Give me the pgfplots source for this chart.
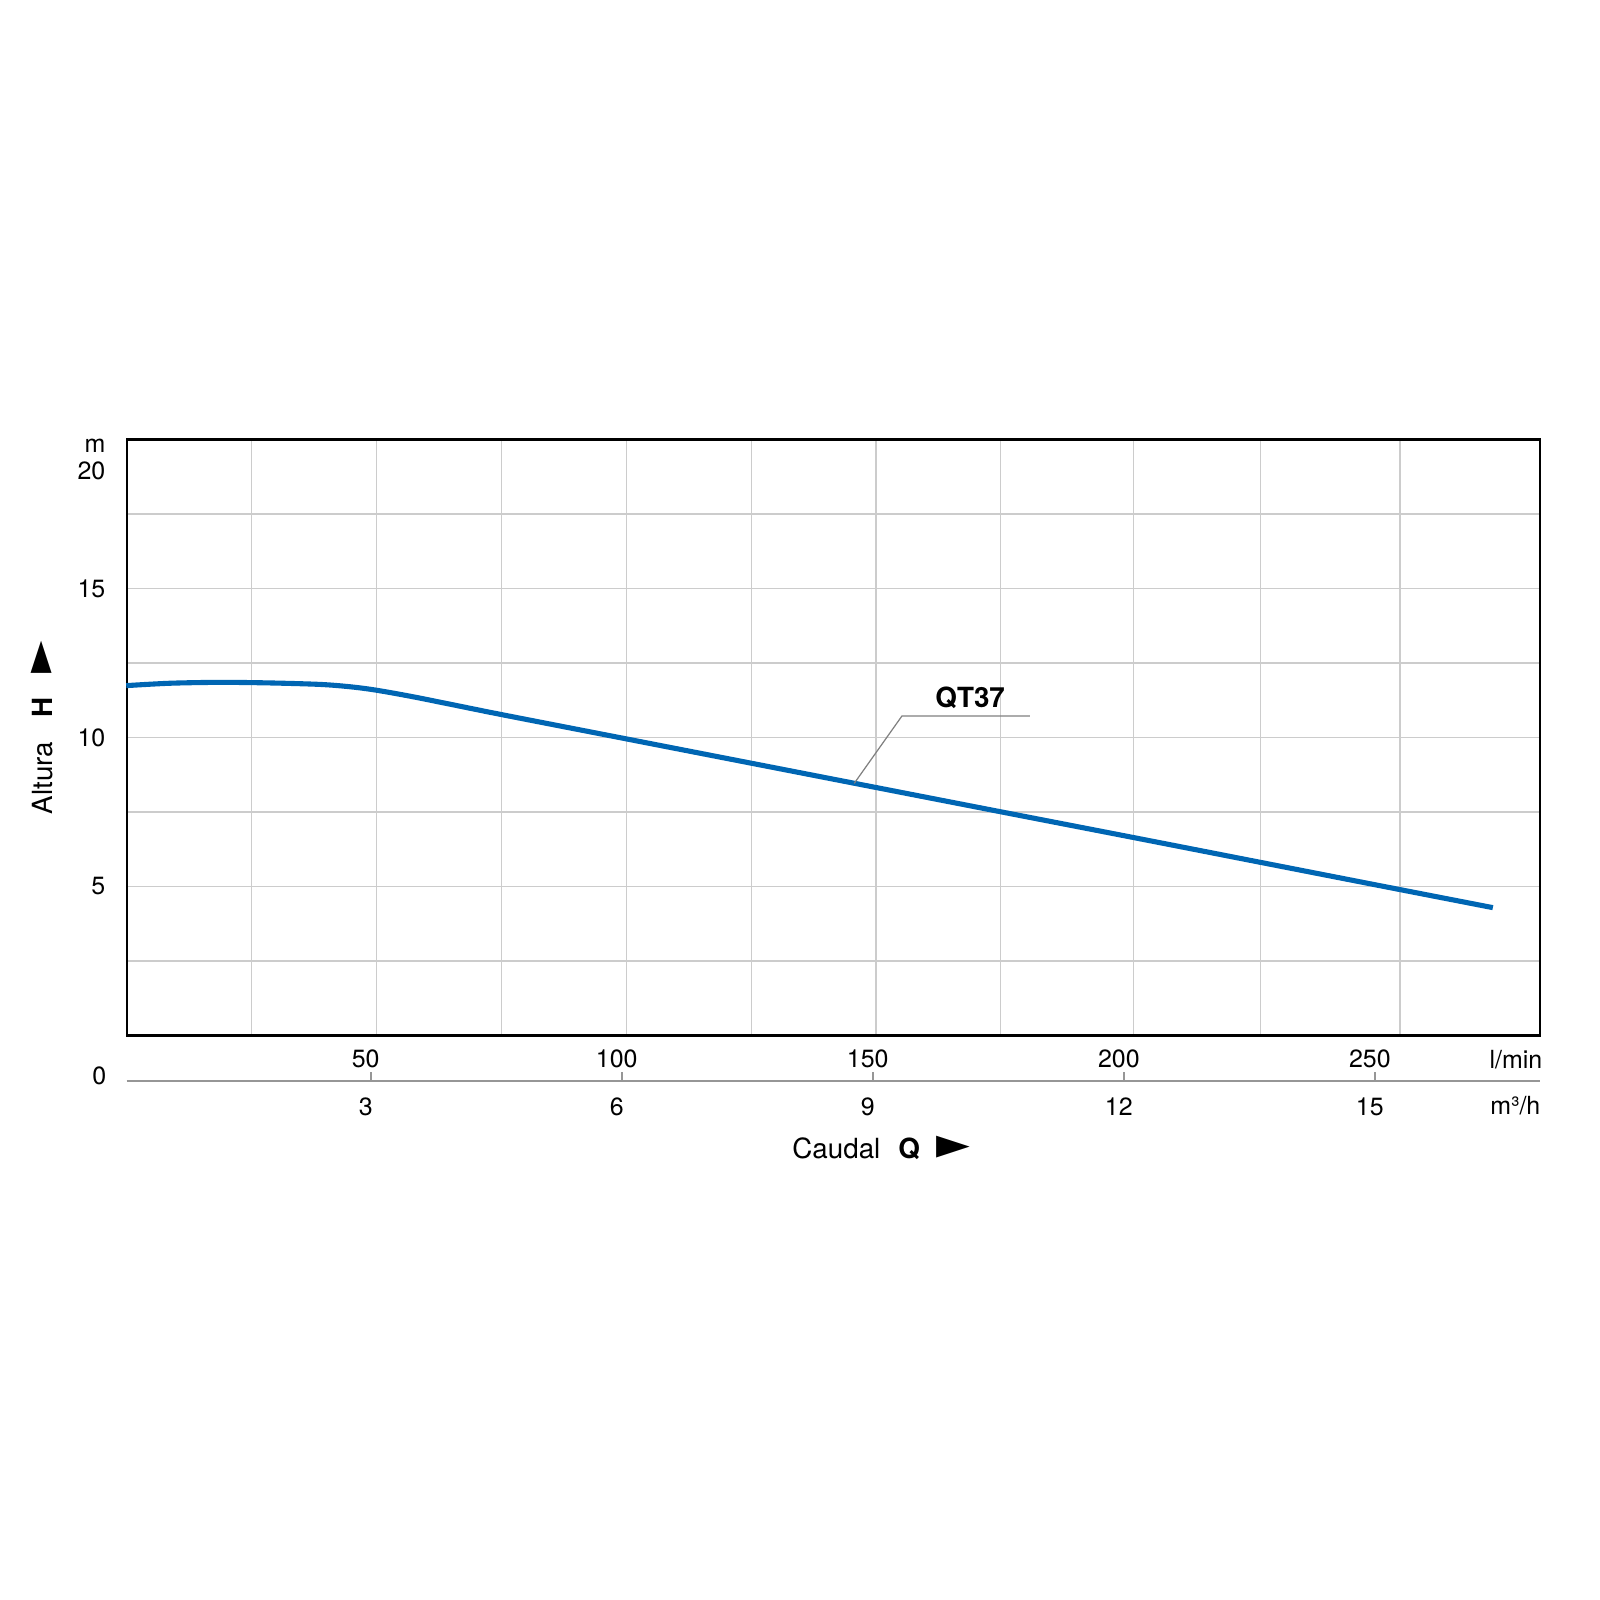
\documentclass[border=0pt]{standalone}
\usepackage{fontspec}
\setmainfont{TeX Gyre Heros}
\newfontfamily\symfont{DejaVu Sans}
\usepackage{pgfplots}
\pgfplotsset{compat=1.18}
\definecolor{curveblue}{RGB}{0,102,179}
\definecolor{gridgray}{RGB}{204,204,204}
\definecolor{scalegray}{RGB}{150,150,150}
\newcommand{\ticksize}{\fontsize{7.1}{8.5}\selectfont}
\newcommand{\titlesize}{\fontsize{7.9}{9}\selectfont}

\begin{document}
\begin{tikzpicture}
\path[use as bounding box] (0,0) rectangle (16cm,16cm);

% main chart: H over Q in l/min
\begin{axis}[
  at={(1.267cm,5.645cm)}, anchor=south west,
  scale only axis, width=14.133cm, height=5.96cm,
  xmin=1.39, xmax=282.9, ymin=0, ymax=20,
  xtick={26.2,51.2,76.1,100.9,125.8,150.6,175.4,201.9,227.2,255.0},
  xticklabels={},
  ytick={2.5,5,7.5,10,12.5,15,17.5},
  yticklabels={,5,,10,,15,},
  grid=major,
  major grid style={gridgray, line width=0.4pt},
  axis line style={black, line width=0.6pt},
  major tick length=0pt,
  yticklabel style={font=\ticksize, xshift=-0.09cm},
  /pgf/number format/assume math mode=true,
  clip=false,
]
\addplot[curveblue, line width=1.45pt, smooth] coordinates {
  (1.3,11.74) (10,11.82) (20,11.85) (30,11.83) (40,11.78) (46,11.70)
  (51,11.59) (58,11.38) (66,11.11) (76,10.77) (101,9.95) (126,9.13)
  (151,8.31) (176,7.49) (202,6.64) (226,5.85) (250,5.06) (273.5,4.29)
};
\draw[gray, line width=0.35pt] (axis cs:146.3,8.46) -- (axis cs:155.8,10.72) -- (axis cs:181.3,10.72);
\node[font=\titlesize\bfseries] at (axis cs:169.4,11.34) {QT37};
\end{axis}

% flow scale below: l/min above the line, m3/h below it
\begin{axis}[
  at={(1.267cm,5.193cm)}, anchor=south west,
  scale only axis, width=14.133cm, height=0.3cm,
  xmin=1.39, xmax=282.9, ymin=0, ymax=1,
  axis x line=bottom, axis y line=none,
  axis line style={-, scalegray, line width=0.5pt},
  xtick={50,100,150,200,250},
  xticklabels={3,6,9,12,15},
  tick align=inside,
  major tick length=0.09cm,
  tick style={scalegray, line width=0.5pt},
  xticklabel style={font=\ticksize, yshift=-0.045cm, xshift=-0.05cm},
  extra x ticks={50,100,150,200,250},
  extra x tick labels={50,100,150,200,250},
  extra x tick style={xticklabel style={anchor=south, yshift=0.05cm}},
]
\end{axis}

% texts around the axes
\node[font=\ticksize, anchor=base east, inner sep=0] at (1.06cm,11.477cm) {m};
\node[font=\ticksize, anchor=base east, inner sep=0] at (1.06cm,11.207cm) {20};
\node[font=\ticksize, anchor=base east, inner sep=0] at (1.07cm,5.15cm) {0};
\node[font=\ticksize, anchor=base east, inner sep=0] at (15.43cm,5.317cm) {l/min};
\node[font=\ticksize, anchor=base east, inner sep=0] at (15.41cm,4.857cm) {m³/h};

\node[font=\titlesize, anchor=base west, inner sep=0] at (7.917cm,4.417cm)
  {Caudal\hspace{0.18cm}\textbf{Q}\hspace{0.17cm}{\fontsize{12.5}{12.5}\symfont ►}};
\node[font=\titlesize, anchor=base west, inner sep=0, rotate=90] at (0.527cm,7.85cm)
  {Altura\hspace{0.24cm}\textbf{H}\hspace{0.24cm}{\fontsize{12}{12}\symfont ►}};
\end{tikzpicture}
\end{document}
